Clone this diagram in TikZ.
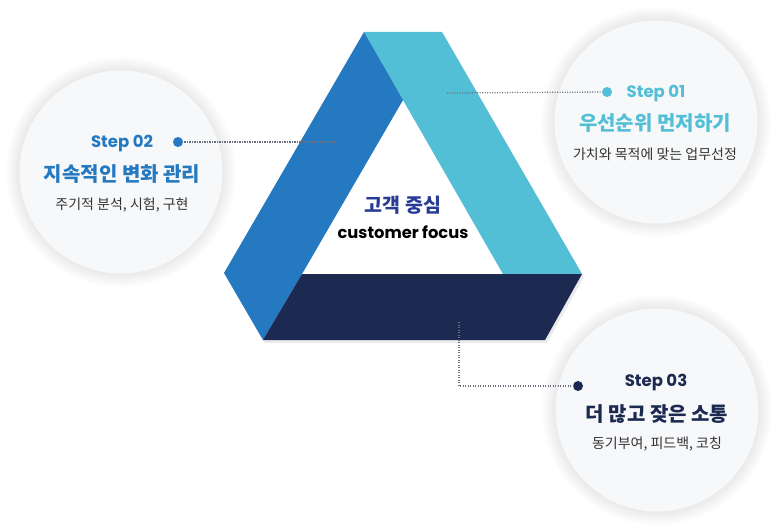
\documentclass[tikz,border=0pt]{standalone}
\usepackage{fontspec}
\setmainfont{Poppins}
\newfontfamily\kr{Noto Sans CJK KR}
\usetikzlibrary{positioning}

\definecolor{bandblue}{HTML}{2479C0}
\definecolor{bandcyan}{HTML}{53BFD6}
\definecolor{bandnavy}{HTML}{1C2A52}
\definecolor{corecolor}{HTML}{283C96}
\definecolor{circlegray}{HTML}{F7F8FA}
\definecolor{textgray}{HTML}{333333}
\definecolor{leadgray}{HTML}{6B6F80}

\tikzstyle{step circle}=[circle,fill=circlegray,minimum size=203pt,inner sep=0pt]
\tikzstyle{step dot}=[circle,minimum size=10pt,inner sep=0pt]
\tikzstyle{step label}=[font=\bfseries\fontsize{16.5}{18}\selectfont]
\tikzstyle{step title}=[font=\kr\bfseries\fontsize{20}{22}\selectfont]
\tikzstyle{step text}=[font=\kr\fontsize{14}{16}\selectfont,text=textgray]
\tikzstyle{lead line}=[draw,leadgray,line width=1.3pt,dash pattern=on 1.2pt off 1.3pt]

\begin{document}
\begin{tikzpicture}[x=1pt,y=-1pt]
     \useasboundingbox (0,0) rectangle (778,532);
     % soft shadows round the circles
     \foreach \pos in {(656,122),(121,172),(657,410)}
       \foreach \r in {2,4,...,14}
         \fill[black,opacity=0.01] \pos circle (101+\r);
     % the three circles
     \foreach \pos/\name in {{(656,122)/c1}, {(121,172)/c2}, {(657,410)/c3}}
     \node[step circle] (\name) at \pos {};

     % shadow of the triangle
     \fill[black,opacity=0.08,even odd rule] (366,35) -- (444,35) -- (584,277) -- (547,343)
       -- (265,343) -- (226,276) -- cycle
       (403,100) -- (302,274) -- (503,274) -- cycle;
     % the three bands
     \fill[bandcyan] (364,32) -- (442,32) -- (582,274) -- (503,274) -- (403,100) -- cycle;
     \fill[bandblue] (364,32) -- (403,100) -- (302,274) -- (263,340) -- (224,273) -- cycle;
     \fill[bandnavy] (302,274) -- (582,274) -- (545,340) -- (263,340) -- cycle;

     % centre
     \node[font=\kr\bfseries\fontsize{19.5}{22}\selectfont,text=corecolor] (core) at (403,205) {고객 중심};
     \node[font=\bfseries\fontsize{16.3}{18}\selectfont] (corefocus) at (403,232) {customer focus};

     % dots and leader lines
     \node[step dot,fill=bandcyan] (d1) at (607,92) {};
     \node[step dot,fill=bandblue] (d2) at (178,142) {};
     \node[step dot,fill=bandnavy] (d3) at (578,386) {};
     \coordinate (e1) at (447,93);
     \coordinate (e2) at (338,142);
     \coordinate (e3) at (459,322);
     \path[lead line] (e1) -- (d1);
     \path[lead line] (e2) -- (d2);
     \path[lead line] (e3) |- (d3);

     % Step 01
     \node[step label,text=bandcyan] (s1) at (656,94) {Step 01};
     \node[step title,text=bandcyan] (t1) at (655,123) {우선순위 먼저하기};
     \node[step text] (x1) at (655,154) {가치와 목적에 맞는 업무선정};
     % Step 02
     \node[step label,text=bandblue] (s2) at (122,144) {Step 02};
     \node[step title,text=bandblue] (t2) at (122,174) {지속적인 변화 관리};
     \node[step text] (x2) at (122,205) {주기적 분석, 시험, 구현};
     % Step 03
     \node[step label,text=bandnavy] (s3) at (656,383) {Step 03};
     \node[step title,text=bandnavy] (t3) at (657,414) {더 많고 잦은 소통};
     \node[step text] (x3) at (657,444) {동기부여, 피드백, 코칭};
   \end{tikzpicture}
\end{document}
